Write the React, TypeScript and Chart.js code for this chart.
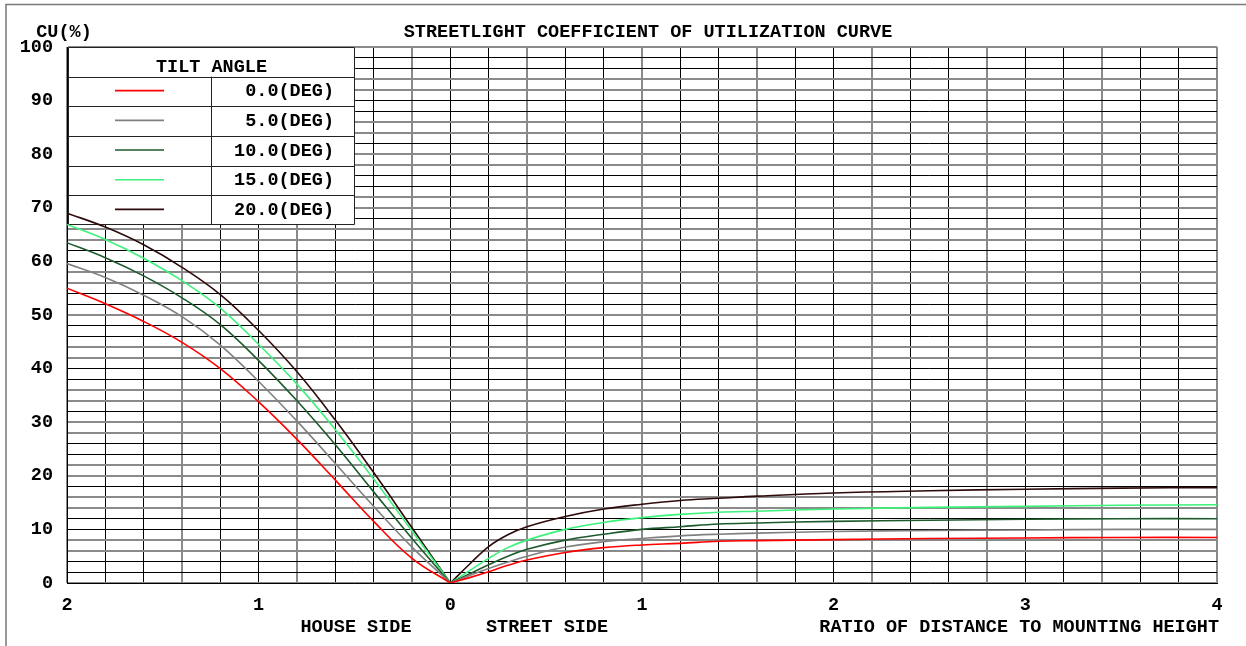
import React, { useEffect, useRef } from 'react';
import { Chart, registerables } from 'chart.js';

Chart.register(...registerables);

// ---- data (distance ratio; house side is negative on the scale, labelled by absolute value) ----
const houseDistance = [-2, -1.8, -1.6, -1.4, -1.2, -1.0, -0.8, -0.6, -0.4, -0.2, 0];
const streetDistance = [0, 0.1, 0.2, 0.3, 0.4, 0.6, 0.8, 1.0, 1.2, 1.4, 1.6, 2.0, 2.5, 3.0, 3.5, 4.0];

const tilt0House = [55.0, 52.1, 48.8, 44.9, 40.0, 33.8, 26.8, 19.2, 11.5, 4.6, 0];
const tilt0Street = [0, 1.0, 2.1, 3.3, 4.3, 5.7, 6.6, 7.1, 7.4, 7.8, 7.9, 8.1, 8.3, 8.4, 8.5, 8.5];
const tilt5House = [59.6, 57.0, 53.7, 49.7, 44.4, 37.6, 30.2, 22.3, 14.3, 6.7, 0];
const tilt5Street = [0, 1.4, 2.7, 3.9, 5.0, 6.7, 7.7, 8.3, 8.8, 9.1, 9.3, 9.6, 9.8, 9.9, 10.0, 10.0];
const tilt10House = [63.5, 60.7, 57.3, 53.2, 48.2, 41.5, 34.0, 25.8, 17.0, 8.3, 0];
const tilt10Street = [0, 1.7, 3.4, 5.0, 6.3, 8.0, 9.1, 10.0, 10.5, 11.0, 11.2, 11.5, 11.7, 11.9, 12.0, 12.0];
const tilt15House = [66.9, 64.1, 60.6, 56.4, 51.3, 44.5, 37.1, 28.6, 19.4, 9.7, 0];
const tilt15Street = [0, 2.3, 4.6, 6.6, 8.0, 10.0, 11.3, 12.2, 12.8, 13.2, 13.4, 13.8, 14.1, 14.3, 14.5, 14.6];
const tilt20House = [69.0, 66.4, 63.1, 58.9, 53.8, 47.1, 39.4, 30.4, 20.6, 10.3, 0];
const tilt20Street = [0, 3.5, 6.8, 9.0, 10.5, 12.4, 13.8, 14.7, 15.4, 15.8, 16.2, 16.8, 17.2, 17.5, 17.7, 17.8];

const tiltLabels = ['0.0(DEG)', '5.0(DEG)', '10.0(DEG)', '15.0(DEG)', '20.0(DEG)'];
const tiltColors = ['#ff0000', '#808080', '#1d5a2c', '#3cf27a', '#2e0a0a'];
const houseSeries = [tilt0House, tilt5House, tilt10House, tilt15House, tilt20House];
const streetSeries = [tilt0Street, tilt5Street, tilt10Street, tilt15Street, tilt20Street];

const titleText = 'STREETLIGHT COEFFICIENT OF UTILIZATION CURVE';
const yAxisText = 'CU(%)';
const legendTitle = 'TILT ANGLE';
const houseText = 'HOUSE SIDE';
const streetText = 'STREET SIDE';
const xAxisText = 'RATIO OF DISTANCE TO MOUNTING HEIGHT';

const FONT_FAMILY = '"Liberation Mono", "Courier New", monospace';
const FONT_SIZE = 18.5;
const fontStr = `bold ${FONT_SIZE}px ${FONT_FAMILY}`;

function gridStyle(ctx: any) {
  const scale = ctx.scale;
  const tick = ctx.tick;
  if (!scale || !tick) return { color: '#000', width: 1 };
  const px = scale.getPixelForValue(tick.value);
  const frac = px - Math.floor(px);
  const crisp = frac >= 0.25 && frac < 0.75;
  return crisp ? { color: '#000000', width: 1 } : { color: '#8a8a8a', width: 2 };
}

const legendTablePlugin = {
  id: 'legendTable',
  beforeDatasetsDraw(chart: any) {
    const { ctx, chartArea } = chart;
    const left = chartArea.left + 1;
    const right = 355;
    const top = chartArea.top;
    const rowH = 29.67;
    const bottom = top + rowH * 6;
    const divX = 211.5;
    ctx.save();
    ctx.fillStyle = '#ffffff';
    ctx.fillRect(left, top, right - left, bottom - top);
    ctx.strokeStyle = '#222222';
    ctx.lineWidth = 1;
    ctx.beginPath();
    ctx.rect(left + 0.5, top + 0.5, right - left - 1, bottom - top - 1);
    for (let i = 1; i < 6; i++) {
      const y = Math.round(top + rowH * i) + 0.5;
      ctx.moveTo(left, y);
      ctx.lineTo(right, y);
    }
    ctx.moveTo(divX, top + rowH);
    ctx.lineTo(divX, bottom);
    ctx.stroke();

    ctx.font = fontStr;
    ctx.fillStyle = '#000';
    ctx.textBaseline = 'alphabetic';
    ctx.textAlign = 'center';
    ctx.fillText(legendTitle, (left + right) / 2, top + 25);
    for (let i = 0; i < tiltLabels.length; i++) {
      const rowTop = top + rowH * (i + 1);
      ctx.strokeStyle = tiltColors[i];
      ctx.lineWidth = 1.6;
      ctx.beginPath();
      ctx.moveTo(115, rowTop + 14);
      ctx.lineTo(164, rowTop + 14);
      ctx.stroke();
      ctx.textAlign = 'right';
      ctx.fillText(tiltLabels[i], 334, rowTop + 19.5);
    }
    ctx.restore();
  },
};

const annotationsPlugin = {
  id: 'annotations',
  afterDraw(chart: any) {
    const { ctx, chartArea } = chart;
    ctx.save();
    // outer frame (top and left edges)
    ctx.strokeStyle = '#7a7a7a';
    ctx.lineWidth = 1.5;
    ctx.beginPath();
    ctx.moveTo(6, 646);
    ctx.lineTo(6, 4.5);
    ctx.lineTo(1246, 4.5);
    ctx.stroke();

    ctx.font = fontStr;
    ctx.fillStyle = '#000';
    ctx.textBaseline = 'alphabetic';
    ctx.textAlign = 'center';
    ctx.fillText(titleText, 648, 37);
    ctx.fillText(yAxisText, 64, 37);
    ctx.fillText(houseText, 356, 632);
    ctx.fillText(streetText, 547, 632);
    ctx.textAlign = 'right';
    ctx.fillText(xAxisText, chartArea.right + 2, 632);
    ctx.restore();
  },
};

export default function App() {
  const canvasRef = useRef<HTMLCanvasElement>(null);

  useEffect(() => {
    const canvas = canvasRef.current;
    if (!canvas) return;

    const datasets: any[] = [];
    for (let s = 0; s < tiltLabels.length; s++) {
      const common = {
        label: tiltLabels[s],
        borderColor: tiltColors[s],
        backgroundColor: tiltColors[s],
        borderWidth: 1.6,
        pointRadius: 0,
        fill: false,
        tension: 0.4,
      };
      datasets.push({
        ...common,
        data: houseDistance.map((x, i) => ({ x, y: houseSeries[s][i] })),
      });
      datasets.push({
        ...common,
        data: streetDistance.map((x, i) => ({ x, y: streetSeries[s][i] })),
      });
    }

    const tickFont = { family: FONT_FAMILY, size: FONT_SIZE, weight: 'bold' as const };

    const chart = new Chart(canvas, {
      type: 'line',
      data: { datasets },
      options: {
        responsive: false,
        animation: false,
        events: [],
        layout: { padding: { left: 0, top: 47, right: 29, bottom: 0 } },
        plugins: {
          legend: { display: false },
          tooltip: { enabled: false },
          title: { display: false },
        },
        scales: {
          x: {
            type: 'linear',
            min: -2,
            max: 4,
            afterFit: (scale: any) => {
              scale.height = 63;
            },
            border: { display: true, color: '#000', width: 1 },
            grid: {
              drawTicks: false,
              color: (ctx: any) => gridStyle(ctx).color,
              lineWidth: (ctx: any) => gridStyle(ctx).width,
            },
            ticks: {
              stepSize: 0.2,
              autoSkip: false,
              maxRotation: 0,
              padding: 11,
              color: '#000',
              font: tickFont,
              callback: (value: any) => {
                const v = Number(value);
                const r = Math.round(v);
                return Math.abs(v - r) < 1e-6 ? String(Math.abs(r)) : '';
              },
            },
          },
          y: {
            type: 'linear',
            min: 0,
            max: 100,
            afterFit: (scale: any) => {
              scale.width = 67;
            },
            border: { display: true, color: '#000', width: 1 },
            grid: {
              drawTicks: false,
              color: (ctx: any) => gridStyle(ctx).color,
              lineWidth: (ctx: any) => gridStyle(ctx).width,
            },
            ticks: {
              stepSize: 2,
              autoSkip: false,
              padding: 14,
              color: '#000',
              font: tickFont,
              callback: (value: any) => {
                const v = Math.round(Number(value));
                return v % 10 === 0 ? String(v) : '';
              },
            },
          },
        },
      },
      plugins: [legendTablePlugin, annotationsPlugin],
    });

    return () => {
      chart.destroy();
    };
  }, []);

  return (
    <div style={{ position: 'fixed', left: 0, top: 0, width: 1246, height: 646, background: '#fff' }}>
      <canvas ref={canvasRef} width={1246} height={646} style={{ display: 'block' }} />
    </div>
  );
}
